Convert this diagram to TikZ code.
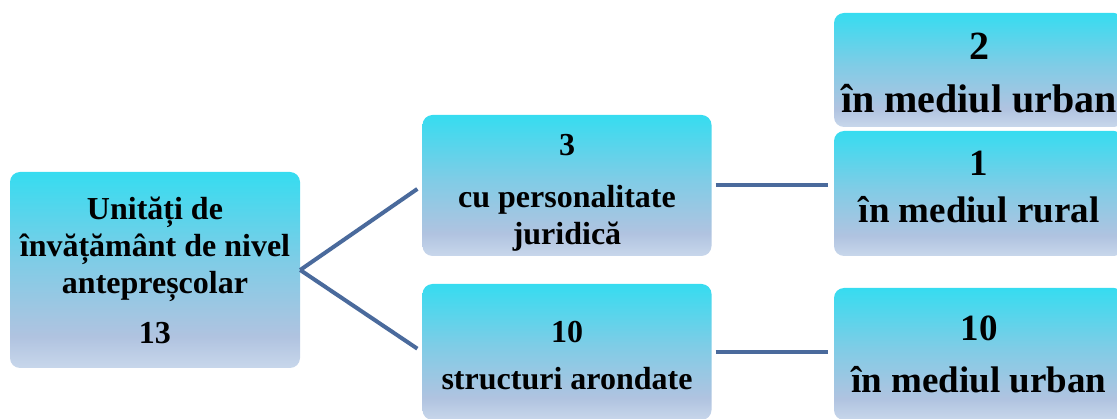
\documentclass[tikz,border=0pt]{standalone}
\usepackage{fontspec}
\setmainfont{Liberation Serif}
\usepackage{tikz}
\definecolor{boxtop}{HTML}{36DCF0}
\definecolor{boxmid}{HTML}{80CCE6}
\definecolor{boxlow}{HTML}{B0C3E0}
\definecolor{boxbot}{HTML}{C8D7EB}
\definecolor{linkblue}{HTML}{4A6A9C}
\pgfdeclareverticalshading{boxshade}{100bp}{color(0bp)=(boxbot); color(25bp)=(boxbot); color(33bp)=(boxlow); color(52bp)=(boxmid); color(75bp)=(boxtop); color(100bp)=(boxtop)}

\begin{document}
\begin{tikzpicture}[x=1pt,y=-1pt,
  box/.style={rounded corners=10pt, shading=boxshade, align=center, inner sep=0pt,
    font=\bfseries\fontsize{32}{37}\selectfont},
  leafbox/.style={box, font=\bfseries\fontsize{37}{43}\selectfont},
  link/.style={line width=4pt, draw=linkblue}]
\useasboundingbox (0,0) rectangle (1117,419);
\clip (0,0) rectangle (1117,419);
%
\node[box, minimum width=290pt, minimum height=196pt] (root) at (155,270)
  {Unități de\\învățământ de nivel\\antepreșcolar\\[13pt]13};
%
\node[box, minimum width=289pt, minimum height=141pt] (juridic) at (567,185.5)
  {\rule{0pt}{35pt}3\\[15pt]cu personalitate\\juridică};
\node[box, minimum width=289pt, minimum height=136pt] (arondat) at (567,352)
  {\rule{0pt}{29pt}10\\[10pt]structuri arondate};
%
\node[leafbox, font=\bfseries\fontsize{40}{46}\selectfont,
  minimum width=290pt, minimum height=114pt] (urban) at (979,70)
  {\rule{0pt}{33pt}2\\[7pt]în mediul urban};
\node[leafbox, minimum width=290pt, minimum height=125pt] (rural) at (979,193.5)
  {1\\[4pt]în mediul rural\rule[-14pt]{0pt}{14pt}};
\node[leafbox, minimum width=290pt, minimum height=132pt] (urbanzece) at (979,354)
  {10\\[9pt]în mediul urban};
%
\draw[link, shorten >=6pt] (root.east) -- (juridic.west);
\draw[link, shorten >=6pt] (root.east) -- (arondat.west);
\draw[link, shorten <=4pt, shorten >=6pt] (juridic.east) -- (juridic.east -| rural.west);
\draw[link, shorten <=4pt, shorten >=6pt] (arondat.east) -- (arondat.east -| urbanzece.west);
\end{tikzpicture}
\end{document}
